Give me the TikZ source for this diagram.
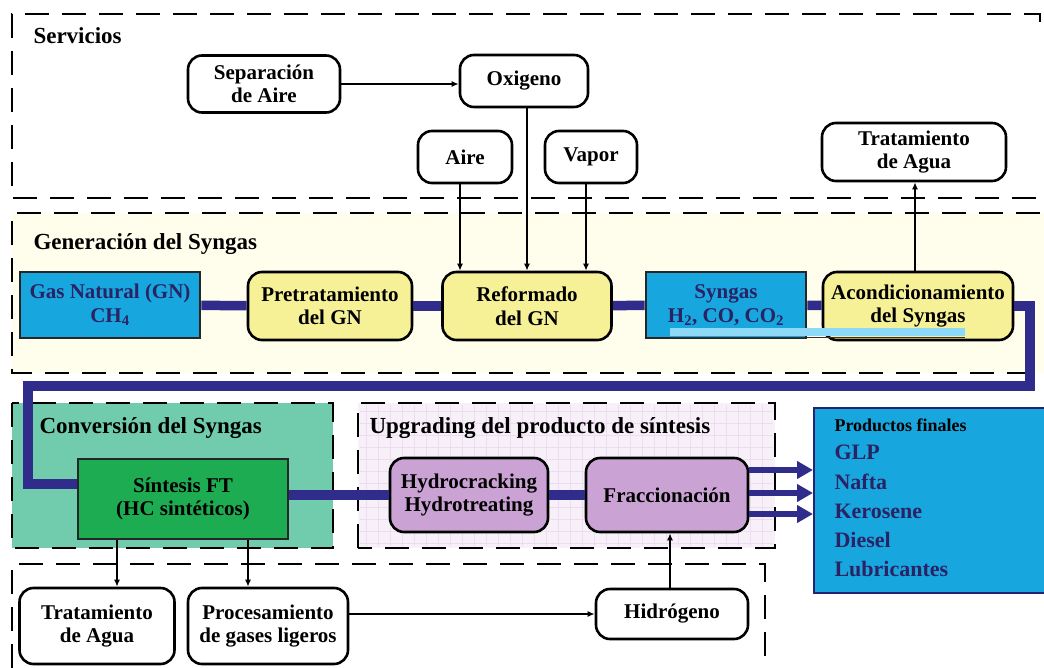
\documentclass[tikz,border=0pt]{standalone}
\usepackage{fontspec}
\setmainfont{Liberation Serif}
\usetikzlibrary{arrows.meta}
\definecolor{navy}{RGB}{48,44,140}
\definecolor{bluebox}{RGB}{24,166,222}
\definecolor{bluetxt}{RGB}{42,34,100}
\definecolor{yelbox}{RGB}{246,240,150}
\definecolor{yelbg}{RGB}{255,253,236}
\definecolor{tealbg}{RGB}{112,204,172}
\definecolor{greenbox}{RGB}{30,172,82}
\definecolor{pinkbg}{RGB}{248,240,248}
\definecolor{purplebox}{RGB}{202,162,212}
\tikzset{
  section/.style={line width=2.6pt, dash pattern=on 24pt off 13pt},
  sectitle/.style={anchor=west, font=\fontsize{23}{26}\selectfont\bfseries},
  rbox/.style={draw, line width=2.6pt, rounded corners=14pt, fill=white, align=center,
    inner sep=0pt, font=\fontsize{21}{23.5}\selectfont\bfseries},
  yelbox/.style={rbox, fill=yelbox},
  purbox/.style={rbox, fill=purplebox},
  sqbox/.style={draw=black!85, line width=2.6pt, align=center, inner sep=0pt,
    font=\fontsize{21}{23.5}\selectfont\bfseries},
  thin/.style={line width=1.7pt, -{Latex[length=7pt,width=6pt]}},
  flow/.style={draw=navy, line width=9.5pt},
  outarrow/.style={draw=navy, line width=6pt, -{Triangle[length=16pt,width=17pt]}},
}
\begin{document}
\begin{tikzpicture}[x=1pt,y=-1pt]
\useasboundingbox (0,0) rectangle (1044,668);
\fill[white] (0,0) rectangle (1044,668);

% section areas
\fill[yelbg] (12,213) rectangle (1044,373);
\fill[tealbg] (12,403) rectangle (333,548);
\fill[pinkbg] (358,403) rectangle (775,548);
\begin{scope}[draw=purplebox!35, line width=0.4pt]
  \foreach \gx in {366,378,...,770} \draw (\gx,405) -- (\gx,546);
  \foreach \gy in {411,423,...,546} \draw (360,\gy) -- (773,\gy);
\end{scope}
\draw[section] (1040,22) -- (1040,14) -- (12,14) -- (12,198) -- (1040,198);
\draw[section] (1040,213) -- (12,213) -- (12,373) -- (1040,373);
\draw[section] (12,403) rectangle (333,548);
\draw[section] (358,548) -- (358,403) -- (775,403) -- (775,548) -- cycle;
\draw[section] (12,668) -- (12,564) -- (765,564) -- (765,668);

\node[sectitle] (tserv) at (30,36) {Servicios};
\node[sectitle] (tgen) at (30,244) {Generación del Syngas};
\node[sectitle] (tconv) at (36,428) {Conversión del Syngas};
\node[sectitle] (tupg) at (366,428) {Upgrading del producto de síntesis};

% services
\node[rbox, minimum width=152, minimum height=57] (sep) at (264,84) {Separación\\de Aire};
\node[rbox, minimum width=128, minimum height=52] (oxi) at (524,81) {Oxigeno};
\node[rbox, minimum width=94, minimum height=52] (aire) at (465,157) {Aire};
\node[rbox, minimum width=92, minimum height=52] (vapor) at (591,157) {Vapor};
\node[rbox, minimum width=184, minimum height=58] (trat1) at (914,152) {Tratamiento\\de Agua};

% syngas generation
\node[sqbox, fill=bluebox, text=bluetxt, minimum width=180, minimum height=66] (gn) at (110,305)
  {Gas Natural (GN)\\CH\textsubscript{4}};
\node[yelbox, minimum width=164, minimum height=68] (pre) at (330,306) {Pretratamiento\\del GN};
\node[yelbox, minimum width=169, minimum height=68] (ref) at (527,306) {Reformado\\del GN};
\node[sqbox, fill=bluebox, text=bluetxt, minimum width=160, minimum height=66] (syn) at (726,305)
  {Syngas\\H\textsubscript{2}, CO, CO\textsubscript{2}};
\node[yelbox, minimum width=190, minimum height=68] (acond) at (918,306) {Acondicionamiento\\del Syngas};
\fill[cyan!45] (670,328) rectangle (965,336);
\draw[black!80, line width=1pt] (670,337) -- (965,337);

% conversion and upgrading
\node[sqbox, fill=greenbox, minimum width=210, minimum height=80] (sint) at (183,499)
  {Síntesis FT\\(HC sintéticos)};
\node[purbox, minimum width=158, minimum height=74] (hyd) at (469,495) {Hydrocracking\\Hydrotreating};
\node[purbox, minimum width=162, minimum height=74] (frac) at (667,495) {Fraccionación};

% final products
\node[draw=navy!80!black, line width=2pt, fill=bluebox, minimum width=240, minimum height=185,
  anchor=north west, inner sep=0pt] (prod) at (813,407) {};
\begin{scope}[text=bluetxt, font=\fontsize{22}{24}\selectfont\bfseries]
  \node[anchor=west, font=\fontsize{18}{20}\selectfont\bfseries, text=black] (p0) at (831,425) {Productos finales};
  \node[anchor=west] (p1) at (831,452) {GLP};
  \node[anchor=west] (p2) at (831,482) {Nafta};
  \node[anchor=west] (p3) at (831,511) {Kerosene};
  \node[anchor=west] (p4) at (831,540) {Diesel};
  \node[anchor=west] (p5) at (831,569) {Lubricantes};
\end{scope}

% bottom services
\node[rbox, minimum width=155, minimum height=76] (trat2) at (97,626) {Tratamiento\\de Agua};
\node[rbox, minimum width=160, minimum height=76] (proc) at (268,626) {Procesamiento\\de gases ligeros};
\node[rbox, minimum width=152, minimum height=50] (hid) at (672,614) {Hidrógeno};

% main process stream
\draw[flow] (gn) -- (pre);
\draw[flow] (pre) -- (ref);
\draw[flow] (ref) -- (syn);
\draw[flow] (syn) -- (acond);
\draw[flow] (acond.east) -| (1030,386) -| (28,484) -- (sint.west |- 28,484);
\draw[flow] (sint.east |- hyd.west) -- (hyd.west);
\draw[flow] (hyd) -- (frac);
\draw[outarrow] (frac.east |- 0,470) -- (prod.west |- 0,470);
\draw[outarrow] (frac.east |- 0,493) -- (prod.west |- 0,493);
\draw[outarrow] (frac.east |- 0,514) -- (prod.west |- 0,514);

% utility connections
\draw[thin] (sep.east) -- (sep.east -| oxi.west);
\draw[thin] (ref.north |- oxi.south) -- (ref.north);
\draw[thin] (aire.south -| 460,0) -- (ref.north -| 460,0);
\draw[thin] (vapor.south -| 586,0) -- (ref.north -| 586,0);
\draw[thin] (acond.north -| 915,0) -- (trat1.south -| 915,0);
\draw[thin] (sint.south -| 117,0) -- (trat2.north -| 117,0);
\draw[thin] (sint.south -| 248,0) -- (proc.north -| 248,0);
\draw[thin] (proc.east |- hid.west) -- (hid.west);
\draw[thin] (hid.north -| 670,0) -- (frac.south -| 670,0);
\end{tikzpicture}
\end{document}
